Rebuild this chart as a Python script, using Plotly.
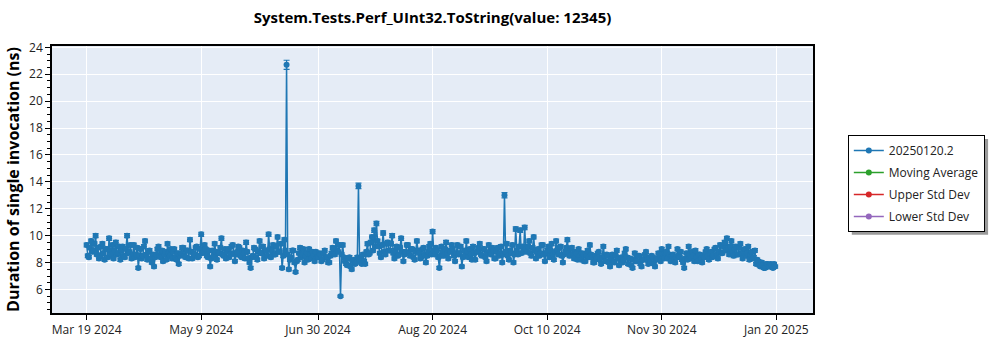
import pandas as pd
import plotly.graph_objects as go

title_text = "System.Tests.Perf_UInt32.ToString(value: 12345)"
y_title = "Duration of single invocation (ns)"
series_name = "20250120.2"
extra_series = ["Moving Average", "Upper Std Dev", "Lower Std Dev"]
extra_colors = ["#2ca02c", "#d62728", "#9467bd"]

# two measurements per day, starting 2024-03-19
start_date = "2024-03-19"
vals_mar = [9.3, 8.5, 8.4, 9.1, 9.6, 8.8, 8.9, 9.4, 10.0, 8.6, 9.1, 8.3, 8.5, 9.2,
            9.4, 8.7, 8.2, 9.0, 9.0, 8.4, 9.8, 8.9, 8.6, 9.3, 8.3, 8.9]
vals_apr = [9.5, 8.6, 8.7, 9.2, 8.2, 8.9, 9.2, 8.5, 8.4, 9.0, 10.0, 8.7, 8.8, 9.3, 8.3, 8.6, 9.3, 8.4, 8.6, 9.1,
            7.6, 8.5, 9.0, 8.3, 8.5, 9.2, 9.6, 8.6, 8.2, 8.8, 8.9, 8.3, 8.0, 8.6, 7.7, 8.4, 8.6, 9.0, 9.2, 8.5,
            8.4, 8.9, 8.1, 8.6, 8.8, 8.2, 9.4, 8.7, 8.5, 9.0, 8.3, 8.8, 9.0, 8.4, 8.2, 8.7, 7.9, 8.5, 8.7, 9.1]
vals_may = [9.1, 8.5, 8.4, 8.9, 8.9, 8.3, 9.7, 8.8, 8.3, 8.7, 8.6, 9.1, 9.2, 8.4, 8.5, 9.0, 10.1, 8.7, 8.8, 9.3,
            9.0, 8.5, 8.4, 8.9, 7.7, 8.3, 8.9, 8.5, 9.4, 8.8, 8.2, 8.7, 8.7, 9.1, 9.8, 8.6, 8.5, 9.0, 8.3, 8.8,
            9.0, 8.4, 8.6, 9.2, 9.3, 8.7, 8.1, 8.6, 8.8, 9.2, 9.1, 8.5, 8.4, 8.9, 8.7, 8.3, 9.5, 8.8, 8.3, 8.0,
            7.6, 8.4]
vals_jun = [8.5, 9.1, 9.0, 8.4, 8.2, 8.8, 9.6, 8.7, 8.7, 9.2, 8.3, 8.9, 8.9, 8.5, 10.1, 9.0, 8.4, 8.9, 9.3, 8.6,
            8.6, 9.2, 9.9, 8.8, 8.8, 9.4, 7.6, 8.5, 9.7, 8.9, 22.7, 8.6, 7.5, 8.2, 8.4, 8.9, 8.9, 8.0, 7.3, 8.1,
            8.2, 8.7, 9.1, 8.4, 8.6, 9.0, 8.0, 8.5, 8.7, 8.2, 9.0, 8.6, 8.3, 8.8, 8.5, 8.1, 8.8, 8.4, 8.4, 8.7]
vals_jul = [8.6, 8.1, 8.2, 8.7, 8.9, 8.4, 8.4, 8.0, 8.0, 8.5, 8.7, 9.1, 9.0, 8.6, 9.6, 8.9, 8.8, 9.3, 5.5, 8.6,
            9.3, 8.4, 8.1, 7.9, 7.8, 8.3, 8.4, 7.7, 7.5, 8.1, 8.2, 7.9, 8.0, 8.4, 13.7, 8.2, 8.3, 7.9, 8.6, 8.1,
            7.9, 8.8, 9.4, 8.6, 8.7, 9.5, 9.9, 8.9, 10.4, 9.2, 10.9, 9.6, 9.2, 8.7, 8.4, 9.3, 10.2, 8.8, 8.6, 9.4,
            9.5, 8.9]
vals_aug = [8.9, 9.4, 10.0, 8.7, 8.3, 8.9, 9.2, 8.5, 8.6, 9.1, 9.8, 8.8, 8.1, 8.6, 8.8, 9.3, 9.3, 8.7, 8.5, 9.0,
            9.0, 8.4, 8.2, 8.8, 9.6, 8.9, 8.7, 8.3, 8.4, 9.0, 9.1, 8.6, 8.0, 8.5, 8.8, 9.2, 9.4, 8.6, 10.3, 8.9,
            8.6, 9.1, 8.9, 8.4, 7.6, 8.5, 9.2, 8.8, 8.5, 9.0, 9.5, 8.7, 8.3, 8.9, 8.8, 9.3, 9.0, 8.5, 8.1, 8.7,
            9.3, 8.6]
vals_sep = [8.7, 9.2, 7.7, 8.4, 8.9, 8.5, 9.6, 8.8, 8.4, 9.0, 8.6, 8.2, 9.2, 8.7, 8.2, 8.8, 8.8, 9.1, 9.4, 8.6,
            8.5, 9.0, 9.0, 8.4, 8.1, 8.7, 9.3, 8.8, 8.6, 9.1, 8.9, 8.3, 8.3, 8.8, 9.1, 8.5, 8.7, 9.2, 8.0, 8.6,
            13.0, 8.8, 9.4, 8.5, 8.2, 8.9, 8.7, 9.3, 8.0, 8.6, 10.5, 8.9, 8.6, 9.2, 10.4, 8.7, 9.2, 8.8, 10.6, 9.0]
vals_oct = [8.8, 9.2, 9.6, 8.7, 8.5, 9.1, 9.9, 8.9, 8.3, 8.8, 9.0, 8.5, 8.7, 9.3, 9.3, 8.6, 8.1, 8.7, 8.9, 9.2,
            8.4, 8.9, 9.4, 8.6, 8.2, 8.8, 9.6, 8.9, 8.6, 9.1, 9.2, 8.5, 8.0, 8.6, 8.8, 9.1, 9.7, 8.7, 8.5, 9.0,
            9.1, 8.6, 8.3, 8.8, 8.7, 8.2, 9.0, 8.5, 8.2, 8.7, 8.6, 8.1, 8.1, 8.5, 8.9, 8.4, 9.3, 8.6, 8.4, 8.0,
            8.0, 8.5]
vals_nov = [8.3, 8.7, 8.8, 8.2, 7.9, 8.4, 9.2, 8.5, 8.1, 8.6, 8.5, 8.0, 7.7, 8.3, 8.6, 8.1, 8.0, 8.5, 8.9, 8.3,
            7.8, 8.3, 8.4, 8.0, 8.2, 8.7, 9.0, 8.4, 7.9, 8.3, 8.3, 7.8, 7.6, 8.2, 8.7, 8.1, 8.1, 8.5, 8.5, 7.9,
            7.7, 8.2, 8.2, 8.6, 8.8, 8.2, 7.9, 8.4, 8.0, 8.5, 8.4, 7.9, 7.7, 8.2, 8.3, 8.7, 8.6, 8.1, 9.0, 8.4]
vals_dec = [8.3, 8.7, 8.8, 8.3, 9.2, 8.6, 8.1, 8.5, 8.6, 8.2, 8.0, 8.4, 9.0, 8.5, 8.4, 8.8, 8.2, 8.0, 7.6, 8.3,
            8.7, 8.2, 9.2, 8.6, 8.3, 8.8, 8.5, 8.1, 8.9, 8.4, 8.1, 8.6, 8.6, 8.3, 8.0, 8.5, 8.4, 8.8, 9.0, 8.5,
            8.2, 8.7, 8.8, 8.4, 8.5, 9.0, 9.1, 8.6, 8.3, 8.8, 9.3, 8.7, 8.7, 9.2, 9.5, 8.9, 9.8, 9.0, 8.6, 9.2,
            9.6, 8.8]
vals_jan = [8.5, 9.0, 9.2, 8.6, 8.6, 9.1, 9.4, 8.7, 8.3, 8.8, 9.0, 8.5, 8.7, 9.2, 8.2, 8.6, 8.8, 8.3, 8.4, 8.9,
            7.9, 8.2, 8.1, 7.8, 7.7, 8.0, 7.8, 7.6, 7.6, 7.9, 7.9, 7.7, 7.7, 7.9, 7.8, 7.6, 7.9, 7.7]

values = (vals_mar + vals_apr + vals_may + vals_jun + vals_jul + vals_aug +
          vals_sep + vals_oct + vals_nov + vals_dec + vals_jan)
dates = pd.date_range(start_date, periods=len(values), freq="12h")

tick_dates = ["2024-03-19", "2024-05-09", "2024-06-30", "2024-08-20",
              "2024-10-10", "2024-11-30", "2025-01-20"]
tick_labels = ["Mar 19 2024", "May 9 2024", "Jun 30 2024", "Aug 20 2024",
               "Oct 10 2024", "Nov 30 2024", "Jan 20 2025"]

FONT = "Segoe UI, Open Sans, Noto Sans, sans-serif"
BLUE = "#1f77b4"

fig = go.Figure()
fig.add_trace(go.Scatter(
    x=dates, y=values, name=series_name, mode="lines+markers",
    legendgroup="g0",
    line=dict(color=BLUE, width=1.5),
    marker=dict(color=BLUE, size=6),
    error_y=dict(type="percent", value=1.5, color=BLUE, thickness=1.2, width=3),
))
for i, (nm, col) in enumerate(zip(extra_series, extra_colors)):
    fig.add_trace(go.Scatter(
        x=[None], y=[None], name=nm, mode="lines+markers", legendgroup="g%d" % (i + 1),
        line=dict(color=col, width=1.5), marker=dict(color=col, size=6),
    ))

# legend shadow (offset grey box peeking out right/bottom of the legend)
fig.add_shape(type="rect", xref="paper", yref="paper",
              x0=(852 - 48) / 765, x1=(989 - 48) / 765,
              y0=(319 - 239) / 273, y1=(319 - 141) / 273,
              fillcolor="#9a9a9a", line=dict(width=0), layer="above")

fig.update_layout(
    width=1000, height=350,
    margin=dict(l=48, r=187, t=46, b=31),
    paper_bgcolor="white", plot_bgcolor="#E5ECF6",
    font=dict(family=FONT, size=12, color="#222"),
    title=dict(text="<b>" + title_text + "</b>", x=0.5, xref="paper",
               y=1 - 18 / 350, yref="container", yanchor="middle",
               font=dict(size=15, color="black", family=FONT)),
    showlegend=True,
    legend=dict(x=(848 - 48) / 765, y=(319 - 137) / 273, xanchor="left", yanchor="top",
                bgcolor="white", bordercolor="black", borderwidth=1, tracegroupgap=3,
                font=dict(size=12, color="#222", family=FONT)),
    xaxis=dict(
        range=["2024-03-03 14:00", "2025-02-05 08:00"],
        tickvals=tick_dates, ticktext=tick_labels,
        showgrid=True, gridcolor="white", gridwidth=1,
        showline=True, linecolor="black", linewidth=1.5, mirror=True,
        ticks="outside", ticklen=5, tickcolor="black", zeroline=False,
    ),
    yaxis=dict(
        range=[4.25, 24.1], dtick=2, tick0=0,
        title=dict(text="<b>" + y_title + "</b>", font=dict(size=16, color="black", family=FONT),
                   standoff=6),
        showgrid=True, gridcolor="white", gridwidth=1,
        showline=True, linecolor="black", linewidth=1.5, mirror=True,
        ticks="outside", ticklen=5, tickcolor="black", zeroline=False,
        minor=dict(dtick=0.5, ticks="outside", ticklen=3, tickcolor="black", showgrid=False),
    ),
)

fig.write_html("out.html")
